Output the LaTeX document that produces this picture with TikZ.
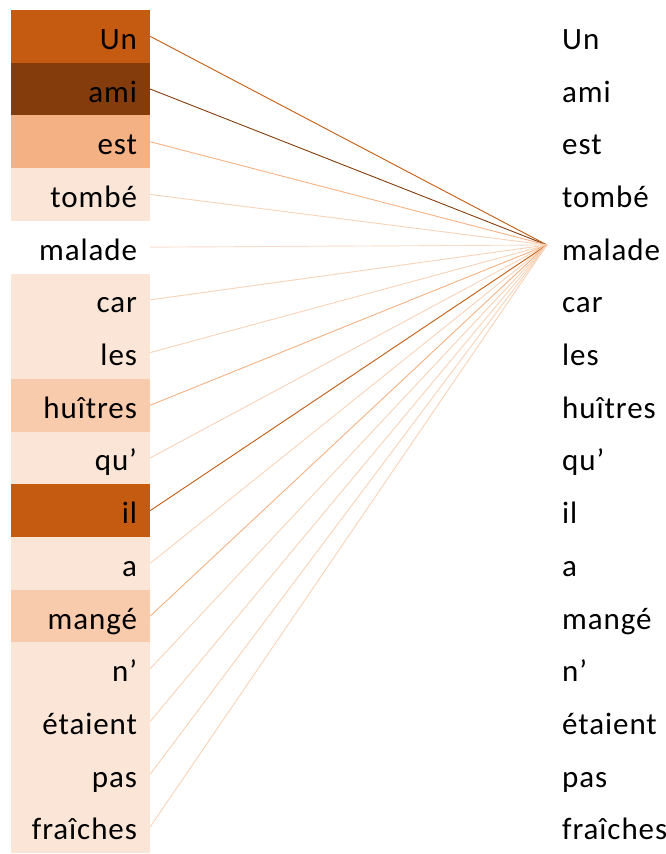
\documentclass[tikz,border=0pt]{standalone}
\usepackage{fontspec}
\setmainfont[LetterSpace=3]{Carlito}
\definecolor{cA}{HTML}{C55A11}
\definecolor{cB}{HTML}{843C0C}
\definecolor{cC}{HTML}{F4B183}
\definecolor{cD}{HTML}{F8CBAD}
\definecolor{cE}{HTML}{FBE5D6}
\definecolor{lE}{HTML}{F8D3B8}
\definecolor{lW}{HTML}{F9DDC9}
\begin{document}
\begin{tikzpicture}[x=1pt,y=-1pt,
  word/.style={font=\fontsize{31}{36}\selectfont, text height=26pt, text depth=0pt},
  lbox/.style={word, minimum width=139pt, minimum height=52.7pt, inner xsep=13pt, inner ysep=0pt,
     text width=113pt, align=right},
  rword/.style={word, anchor=west, inner sep=0pt},
  link/.style={line width=0.9pt}]
\useasboundingbox (0,0) rectangle (666,854);
\def\wordlist{Un/cA/cA, ami/cB/cB, est/cC/cC, tombé/cE/lE, malade/white/lW, car/cE/lE, les/cE/lE, huîtres/cD/cC, qu’/cE/lE, il/cA/cA, a/cE/lE, mangé/cD/cC, n’/cE/lE, étaient/cE/lE, pas/cE/lE, fraîches/cE/lE}
\coordinate (hub) at (547,245);
\foreach \w/\f/\l [count=\i from 0] in \wordlist {
  \node[lbox, fill=\f] (L\i) at (80.5, {10+52.7*(\i+0.5)}) {\w};
  \node[rword] (R\i) at (562, {10+52.7*(\i+0.5)}) {\w};
  \draw[link, draw=\l] (L\i.east) -- (hub);
}
\end{tikzpicture}
\end{document}
